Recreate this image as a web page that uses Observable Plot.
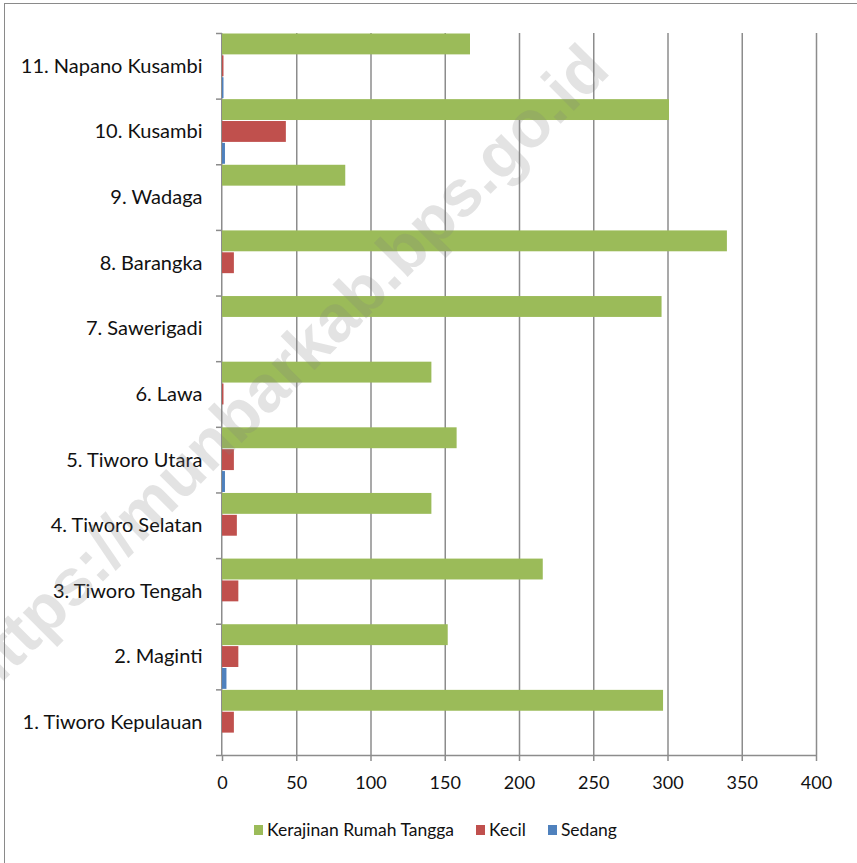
<!DOCTYPE html>
<html>
<head>
<meta charset="utf-8">
<script src="https://cdn.jsdelivr.net/npm/d3@7"></script>
<script src="https://cdn.jsdelivr.net/npm/@observablehq/plot@0.6"></script>
<style>
  html, body { margin: 0; padding: 0; background: #fff; }
  #wrap { position: relative; width: 857px; height: 863px; overflow: hidden; font-family: Lato, "Open Sans", sans-serif; }
  #frame { position: absolute; left: 4px; top: 3px; width: 900px; height: 900px; border-left: 1.5px solid #8a8a8a; border-top: 1.5px solid #8a8a8a; box-sizing: border-box; }
  #chart { position: absolute; left: 0; top: 0; }
  #legend { position: absolute; left: 254px; top: 819px; display: flex; align-items: center; font-size: 17.5px; color: #111; }
  #legend .item { display: flex; align-items: center; margin-right: 22px; }
  #legend .sw { width: 9px; height: 10px; margin-right: 4px; }
  #wm { position: absolute; left: 0; top: 0; pointer-events: none; }
</style>
</head>
<body>
<div id="wrap">
  <div id="frame"></div>
  <div id="chart"></div>
  <div id="legend"></div>
  <svg id="wm" width="857" height="863">
    <text x="282" y="370" transform="rotate(-45 282 370)" text-anchor="middle" dominant-baseline="central"
      font-family="Liberation Sans, Arial, sans-serif" font-weight="bold" font-size="66" fill="#808080" fill-opacity="0.22">https://munbarkab.bps.go.id</text>
  </svg>
</div>
<script>
const names = ["1. Tiworo Kepulauan","2. Maginti","3. Tiworo Tengah","4. Tiworo Selatan","5. Tiworo Utara","6. Lawa","7. Sawerigadi","8. Barangka","9. Wadaga","10. Kusambi","11. Napano Kusambi"];
const seriesNames = ["Kerajinan Rumah Tangga","Kecil","Sedang"];
const seriesColors = ["#9BBB59","#C0504D","#4F81BD"];
const rumahTangga = [297,152,216,141,158,141,296,340,83,301,167];
const kecil = [8,11,11,10,8,1,0,8,0,43,1];
const sedang = [0,3,0,0,2,0,0,0,0,2,1];
const xTicks = [0,50,100,150,200,250,300,350,400];

const seriesValues = [rumahTangga, kecil, sedang];
const rows = [];
names.forEach((n, i) => {
  seriesValues.forEach((vals, k) => {
    rows.push({i, k, series: seriesNames[k], value: vals[i], y1: i + (2 - k) / 3, y2: i + (3 - k) / 3});
  });
});

const gridCol = "#8c8c8c";
const chart = Plot.plot({
  width: 857,
  height: 800,
  marginLeft: 222,
  marginRight: 41,
  marginTop: 33,
  marginBottom: 45,
  style: {fontFamily: "Lato, 'Open Sans', sans-serif", background: "transparent", color: "#111"},
  x: {domain: [0, 400]},
  y: {domain: [0, names.length]},
  color: {domain: seriesNames, range: seriesColors},
  marks: [
    Plot.ruleX(xTicks.filter(t => t > 0), {stroke: gridCol, strokeWidth: 1.5}),
    Plot.ruleX([0], {stroke: gridCol, strokeWidth: 1.5, dx: -0.75}),
    Plot.rectX(rows, {x1: 0, x2: "value", y1: "y1", y2: "y2", fill: "series", insetTop: 0.5, insetBottom: 0.5}),
    Plot.ruleY([0], {stroke: gridCol, strokeWidth: 1.5}),
    Plot.axisX({ticks: xTicks, tickSize: 6, tickPadding: 15, tickFormat: d => String(d), fontSize: 18, stroke: gridCol, strokeWidth: 1.5, label: null}),
    Plot.axisY({ticks: d3.range(names.length + 1), tickSize: 6, tickFormat: () => "", stroke: gridCol, strokeWidth: 1.5, label: null}),
    Plot.axisY({ticks: d3.range(names.length).map(i => i + 0.5), tickSize: 0, tickPadding: 20, tickFormat: v => names[Math.round(v - 0.5)], fontSize: 20, label: null})
  ]
});
document.getElementById("chart").appendChild(chart);

const legend = document.getElementById("legend");
seriesNames.forEach((s, k) => {
  const it = document.createElement("div");
  it.className = "item";
  const sw = document.createElement("span");
  sw.className = "sw";
  sw.style.background = seriesColors[k];
  const tx = document.createElement("span");
  tx.textContent = s;
  it.appendChild(sw); it.appendChild(tx);
  legend.appendChild(it);
});
</script>
</body>
</html>
